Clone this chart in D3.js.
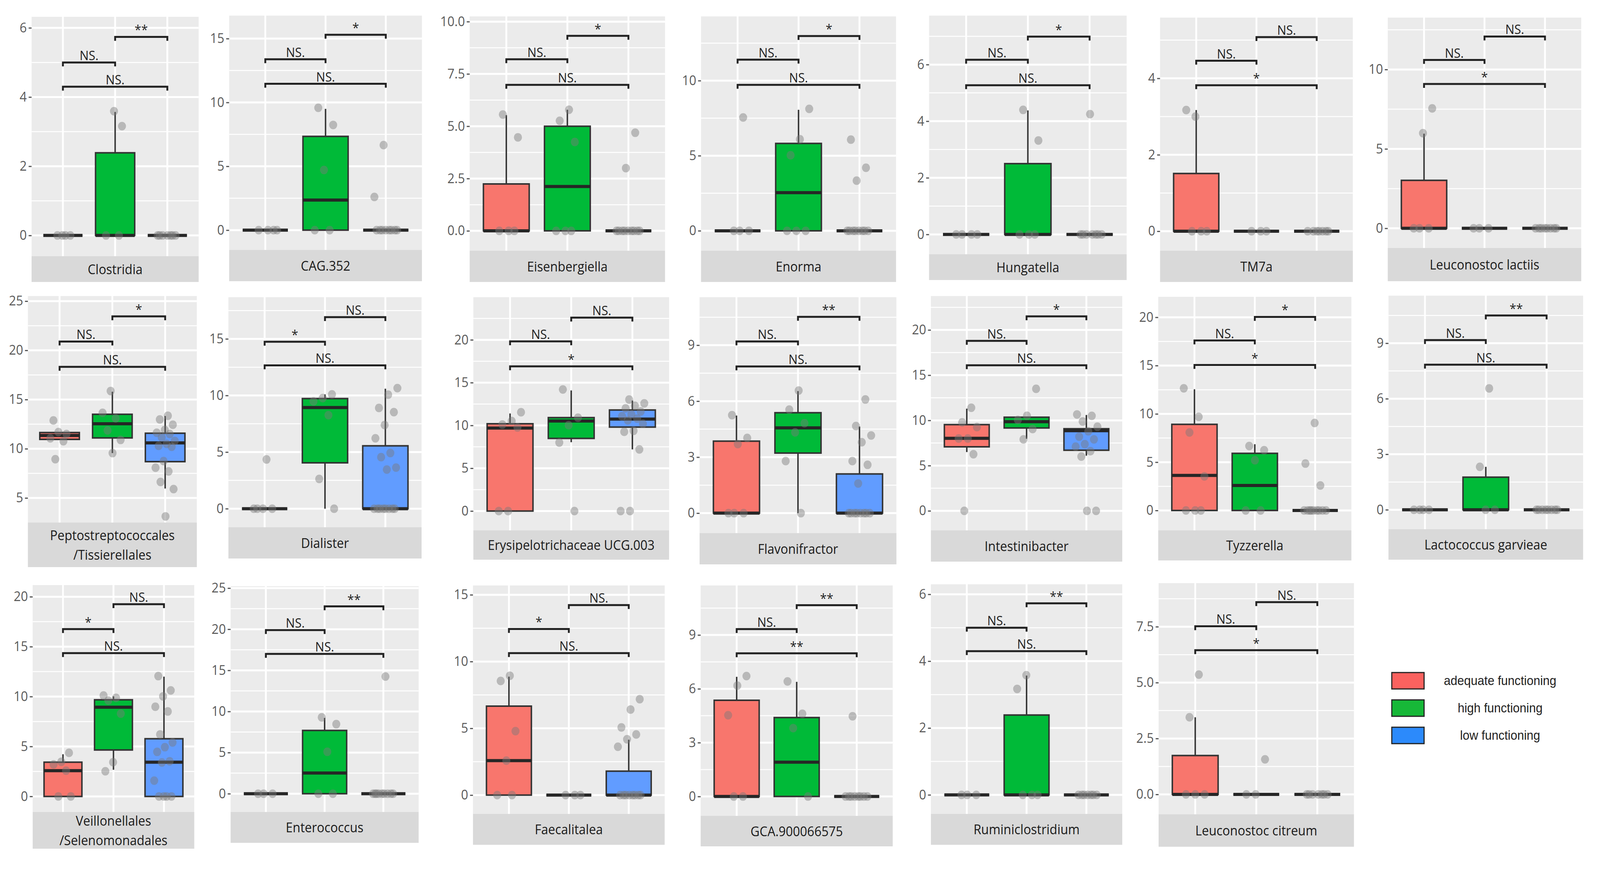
<!DOCTYPE html>
<html><head><meta charset="utf-8">
<script src="https://cdn.jsdelivr.net/npm/d3@7"></script>
<style>html,body{margin:0;padding:0;background:#fff;overflow:hidden}svg{display:block;width:100vw;height:100vh}</style></head>
<body><svg id="c"></svg>
<script>
// ---------------- DATA ----------------
const groups = ["adequate functioning", "high functioning", "low functioning"];

const panelNames = [
  "Clostridia","CAG.352","Eisenbergiella","Enorma","Hungatella","TM7a","Leuconostoc lactiis",
  "Peptostreptococcales\n/Tissierellales","Dialister","Erysipelotrichaceae UCG.003","Flavonifractor","Intestinibacter","Tyzzerella","Lactococcus garvieae",
  "Veillonellales\n/Selenomonadales","Enterococcus","Faecalitalea","GCA.900066575","Ruminiclostridium","Leuconostoc citreum"
];

const yDomains = [
  [-0.6,6.32],[-1.55,16.8],[-0.95,10.25],[-1.33,14.28],[-0.7,7.73],[-0.51,5.59],[-1.24,13.27],
  [2.5,25.52],[-1.64,18.68],[-2.26,24.98],[-1.07,11.57],[-2.16,23.75],[-2.06,22.12],[-1.05,11.57],
  [-1.56,21.17],[-2.22,25.23],[-1.41,15.7],[-1.08,11.76],[-0.57,6.3],[-0.89,9.45]
];

const yTicks = [
  [0,2,4,6],[0,5,10,15],[0,2.5,5,7.5,10],[0,5,10],[0,2,4,6],[0,2,4],[0,5,10],
  [5,10,15,20,25],[0,5,10,15],[0,5,10,15,20],[0,3,6,9],[0,5,10,15,20],[0,5,10,15,20],[0,3,6,9],
  [0,5,10,15,20],[0,5,10,15,20,25],[0,5,10,15],[0,3,6,9],[0,2,4,6],[0,2.5,5,7.5]
];

// box stats: [lower whisker, q1, median, q3, upper whisker]
const boxAdequate = [
  [0,0,0,0,0],[0,0,0,0,0],[0,0,0,2.24,5.53],[0,0,0,0,0],[0,0,0,0,0],[0,0,0,1.51,3.17],[0,0,0,3.02,5.96],
  [10.9,10.95,11.35,11.65,11.7],[0,0,0,0,0],[0,0,9.7,10.2,11.4],[0,0,0,3.86,5.23],[6.5,7.08,8.02,9.53,11.3],[0,0,3.63,8.92,12.55],[0,0,0,0,0],
  [0,0,2.58,3.43,4.22],[0,0,0,0,0],[0,0,2.58,6.66,8.87],[0,0,0,5.36,6.67],[0,0,0,0,0],[0,0,0,1.74,3.45]
];
const boxHigh = [
  [0,0,0,2.39,3.57],[0,0,2.36,7.34,9.5],[0,0,2.12,5.0,5.79],[0,0,2.54,5.82,8.06],[0,0,0,2.5,4.38],[0,0,0,0,0],[0,0,0,0,0],
  [9.56,11.1,12.54,13.5,15.8],[0,4.05,8.93,9.73,10.1],[8.04,8.48,10.52,10.92,14.09],[0,3.22,4.57,5.38,6.54],[7.97,9.16,9.86,10.35,10.35],[0,0,2.59,5.92,6.86],[0,0,0,1.76,2.32],
  [2.67,4.65,8.93,9.68,10.02],[0,0,2.52,7.69,9.22],[0,0,0,0,0],[0,0,1.91,4.4,6.39],[0,0,0,2.39,3.57],[0,0,0,0,0]
];
const boxLow = [
  [0,0,0,0,0],[0,0,0,0,0],[0,0,0,0,0],[0,0,0,0,0],[0,0,0,0,0],[0,0,0,0,0],[0,0,0,0,0],
  [5.96,8.69,10.6,11.58,13.33],[0,0,0,5.55,10.6],[7.2,9.81,10.74,11.8,12.91],[0,0,0,2.1,4.64],[6.1,6.7,8.86,9.08,10.6],[0,0,0,0,0],[0,0,0,0,0],
  [0,0,3.43,5.78,12.0],[0,0,0,0,0],[0,0,0,1.79,4.15],[0,0,0,0,0],[0,0,0,0,0],[0,0,0,0,0]
];

// individual observations
const ptsAdequate = [
  [0,0,0,0],[0,0,0,0],[5.56,4.47,0,0,0],[7.55,0,0,0],[0,0,0,0],[3.0,3.17,0,0,0],[7.55,5.99,0,0,0],
  [12.88,11.5,11.7,11.06,10.77,8.94],[4.35,0,0,0,0],[11.54,10.52,10.1,9.77,0,0],[5.25,4.03,3.7,0,0,0],[11.4,9.78,9.26,8.0,8.0,6.26,0],[12.65,9.7,8.08,3.53,0,0,0],[0,0,0,0],
  [4.37,3.47,3.2,2.58,0,0],[0,0,0],[8.94,8.55,4.79,2.58,0,0],[6.71,6.18,4.53,0,0],[0,0,0],[5.36,3.45,0,0,0]
];
const ptsHigh = [
  [3.16,3.59,0,0],[9.58,8.24,4.71,0,0],[5.79,5.26,4.25,0,0,0],[8.12,6.1,5.03,0,0,0],[4.4,3.32,0,0,0],[0,0,0],[0,0,0],
  [15.87,13.65,13.1,11.87,10.9,9.56],[10.1,9.77,9.48,8.26,2.63,0],[14.2,10.9,10.03,8.0,0],[6.57,5.55,4.82,4.33,2.79,0],[13.49,10.51,10.05,9.05,7.9],[6.67,6.24,5.2,0,0],[6.56,2.32,0,0],
  [10.11,9.87,9.6,8.29,3.43,2.52],[9.29,8.46,5.1,0,0],[0,0,0],[6.41,4.61,3.81,0],[3.58,3.17,0,0,0],[1.57,0,0]
];
const ptsLow = [
  [0,0,0,0,0,0,0],[6.66,2.6,0,0,0,0,0,0,0,0],[4.69,3.0,0,0,0,0,0,0,0,0,0],[6.07,4.2,3.34,0,0,0,0,0,0,0,0],[4.25,0,0,0,0,0,0,0],[0,0,0,0,0,0,0],[0,0,0,0,0,0,0,0],
  [13.36,12.98,12.44,11.92,11.63,11.5,11.15,10.8,10.5,10.3,10.2,8.75,8.08,7.7,6.63,5.9,3.13],
  [10.65,10.07,8.9,8.53,7.39,6.22,4.92,4.55,3.63,3.46,0,0,0,0,0,0,0,0],
  [13.02,12.58,12.29,12.0,11.63,11.3,11.07,10.8,10.6,10.2,9.37,9.26,7.2,0,0],
  [6.09,4.67,4.16,3.8,2.79,2.59,1.59,0,0,0,0,0,0,0,0],
  [10.66,10.5,9.88,9.3,8.8,8.2,7.9,7.37,7.1,6.6,6.0,0,0],
  [9.06,4.86,2.59,0,0,0,0,0,0,0,0,0],
  [0,0,0,0,0,0,0,0],
  [12.05,10.62,10.02,8.98,8.51,6.21,5.4,4.93,4.46,3.52,3.4,1.58,0,0,0,0],
  [14.25,0,0,0,0,0,0,0,0,0],
  [7.18,6.41,5.07,4.54,4.18,3.62,0,0,0,0,0,0,0,0],
  [4.47,0,0,0,0,0,0,0,0],
  [0,0,0,0,0,0,0],
  [0,0,0,0,0,0,0]
];

// significance brackets: y levels for [1-2, 2-3, 1-3] and their labels
const bracketLevels = [
  [5.0,5.74,4.3],[13.38,15.3,11.46],[8.2,9.32,6.98],[11.4,12.97,9.72],[6.17,6.99,5.27],[4.46,5.08,3.82],[10.6,12.08,9.09],
  [20.9,23.46,18.33],[14.75,16.92,12.66],[19.82,22.6,16.9],[9.2,10.52,7.86],[18.79,21.5,16.1],[17.6,20.04,15.06],[9.17,10.5,7.84],
  [16.76,19.25,14.35],[19.9,22.78,17.0],[12.44,14.23,10.63],[9.33,10.66,7.98],[5.0,5.73,4.3],[7.52,8.6,6.45]
];
const bracketLabels = [
  ["NS.","**","NS."],["NS.","*","NS."],["NS.","*","NS."],["NS.","*","NS."],["NS.","*","NS."],["NS.","NS.","*"],["NS.","NS.","*"],
  ["NS.","*","NS."],["*","NS.","NS."],["NS.","NS.","*"],["NS.","**","NS."],["NS.","*","NS."],["NS.","*","*"],["NS.","**","NS."],
  ["*","NS.","NS."],["NS.","**","NS."],["*","NS.","NS."],["NS.","**","**"],["NS.","**","NS."],["NS.","NS.","*"]
];

// ---------------- LAYOUT (panel frames: x0, x1, plotTop, plotBottom, stripBottom) ----------------
const panelFrames = [
  [86,541,43,656,722],[624,1149,40,640,720],[1279,1811,42,642,722],[1909,2440,42,642,722],[2530,3068,40,651,717],[3159,3684,45,642,722],[3779,4306,45,635,720],
  [76,536,758,1338,1452],[622,1148,761,1350,1430],[1289,1822,761,1358,1433],[1905,2441,761,1365,1445],[2535,3056,758,1358,1438],[3154,3680,760,1358,1435],[3781,4311,757,1355,1433],
  [89,529,1498,2079,2173],[628,1140,1501,2079,2158],[1288,1810,1499,2084,2163],[1908,2431,1499,2089,2167],[2535,3056,1496,2084,2163],[3155,3687,1493,2085,2168]
];

const boxFill = ["#F8766D", "#00BA38", "#619CFF"];
const legendFill = ["#FA625F", "#17B838", "#2C8AFB"];

// ---------------- DRAW ----------------
const W = 4357, H = 2225;
const FONT = "'Open Sans', 'Noto Sans', sans-serif";
const svg = d3.select("#c").attr("viewBox", `0 0 ${W} ${H}`).attr("preserveAspectRatio", "none");
svg.append("rect").attr("width", W).attr("height", H).attr("fill", "#fff");

const boxSets = [boxAdequate, boxHigh, boxLow];
const ptSets = [ptsAdequate, ptsHigh, ptsLow];
const pairs = [[0,1],[1,2],[0,2]];

panelNames.forEach((name, p) => {
  const [x0, x1, top, pb, sb] = panelFrames[p];
  const g = svg.append("g");
  const x = d3.scalePoint().domain([0,1,2]).range([x0, x1]).padding(0.6);
  const step = x.step();
  const y = d3.scaleLinear().domain(yDomains[p]).range([pb, top]);
  const ticks = yTicks[p];

  g.append("rect").attr("x", x0).attr("y", top).attr("width", x1 - x0).attr("height", pb - top).attr("fill", "#EBEBEB");

  // minor grid
  const dt = ticks[1] - ticks[0];
  const minors = [];
  for (let k = -1; k < ticks.length; k++) {
    const v = ticks[0] + dt * (k + 0.5);
    if (v > yDomains[p][0] && v < yDomains[p][1]) minors.push(v);
  }
  g.selectAll(".mn").data(minors).join("line")
    .attr("x1", x0).attr("x2", x1).attr("y1", d => y(d)).attr("y2", d => y(d))
    .attr("stroke", "#fff").attr("stroke-width", 2.5);
  g.selectAll(".mj").data(ticks).join("line")
    .attr("x1", x0).attr("x2", x1).attr("y1", d => y(d)).attr("y2", d => y(d))
    .attr("stroke", "#fff").attr("stroke-width", 5);
  g.selectAll(".vg").data([0,1,2]).join("line")
    .attr("x1", d => x(d)).attr("x2", d => x(d)).attr("y1", top).attr("y2", pb)
    .attr("stroke", "#fff").attr("stroke-width", 5);

  // strip
  g.append("rect").attr("x", x0).attr("y", pb).attr("width", x1 - x0).attr("height", sb - pb).attr("fill", "#D9D9D9");
  const lines = name.split("\n");
  const cy = (pb + sb) / 2;
  lines.forEach((ln, k) => {
    g.append("text").attr("x", (x0 + x1) / 2).attr("y", cy + (k - (lines.length - 1) / 2) * 50)
      .attr("text-anchor", "middle").attr("dominant-baseline", "central")
      .attr("font-family", FONT).attr("font-size", 34).attr("fill", "#1A1A1A").text(ln);
  });

  // y axis
  const hasDec = ticks.some(t => !Number.isInteger(t));
  const axis = d3.axisLeft(y).tickValues(ticks).tickSize(8).tickPadding(5)
    .tickFormat(hasDec ? d3.format(".1f") : d3.format("d"));
  const ag = g.append("g").attr("transform", `translate(${x0},0)`).call(axis);
  ag.attr("font-family", FONT).attr("font-size", 34);
  ag.select(".domain").remove();
  ag.selectAll(".tick line").attr("stroke", "#555").attr("stroke-width", 3);
  ag.selectAll(".tick text").attr("fill", "#5A5A5A");

  // boxplots
  const bw = step * 0.75;
  [0,1,2].forEach(k => {
    const [lo, q1, md, q3, hi] = boxSets[k][p];
    const cx = x(k);
    if (hi > q3) g.append("line").attr("x1", cx).attr("x2", cx).attr("y1", y(q3)).attr("y2", y(hi)).attr("stroke", "#333").attr("stroke-width", 4);
    if (lo < q1) g.append("line").attr("x1", cx).attr("x2", cx).attr("y1", y(q1)).attr("y2", y(lo)).attr("stroke", "#333").attr("stroke-width", 4);
    g.append("path")
      .attr("d", `M${cx - bw/2},${y(q3)}H${cx + bw/2}V${y(q1)}H${cx - bw/2}Z`)
      .attr("fill", boxFill[k]).attr("stroke", "#333").attr("stroke-width", 4);
    g.append("line").attr("x1", cx - bw/2).attr("x2", cx + bw/2).attr("y1", y(md)).attr("y2", y(md))
      .attr("stroke", "#262626").attr("stroke-width", 8);
  });

  // jittered points (deterministic horizontal spread)
  [0,1,2].forEach(k => {
    const vals = ptSets[k][p];
    g.selectAll(null).data(vals).join("circle")
      .attr("cx", (d, i) => x(k) + ((((i + 1) * 0.6180339 + p * 0.37 + k * 0.21) % 1) - 0.5) * 0.4 * step)
      .attr("cy", d => y(d))
      .attr("r", 11)
      .attr("fill", "#7A7A7A").attr("fill-opacity", 0.45);
  });

  // significance brackets
  pairs.forEach(([a, b], j) => {
    const yy = y(bracketLevels[p][j]);
    g.append("path").attr("d", `M${x(a)},${yy + 10}V${yy}H${x(b)}V${yy + 10}`)
      .attr("fill", "none").attr("stroke", "#222").attr("stroke-width", 5);
    g.append("text").attr("x", (x(a) + x(b)) / 2).attr("y", yy - 6)
      .attr("text-anchor", "middle").attr("font-family", FONT).attr("font-size", 33)
      .attr("fill", "#222").text(bracketLabels[p][j]);
  });
});

// legend
const lg = svg.append("g");
const legY = [1722, 1792, 1862];
groups.forEach((gname, k) => {
  lg.append("rect").attr("x", 3790).attr("y", legY[k]).attr("width", 88).attr("height", 42)
    .attr("fill", legendFill[k]).attr("stroke", "#222").attr("stroke-width", 3);
  lg.append("text").attr("x", 4085).attr("y", legY[k] + 21).attr("text-anchor", "middle")
    .attr("dominant-baseline", "central").attr("font-family", "'Liberation Sans', Arial, sans-serif")
    .attr("font-size", 33).attr("fill", "#222").text(gname);
});
</script>
</body></html>
